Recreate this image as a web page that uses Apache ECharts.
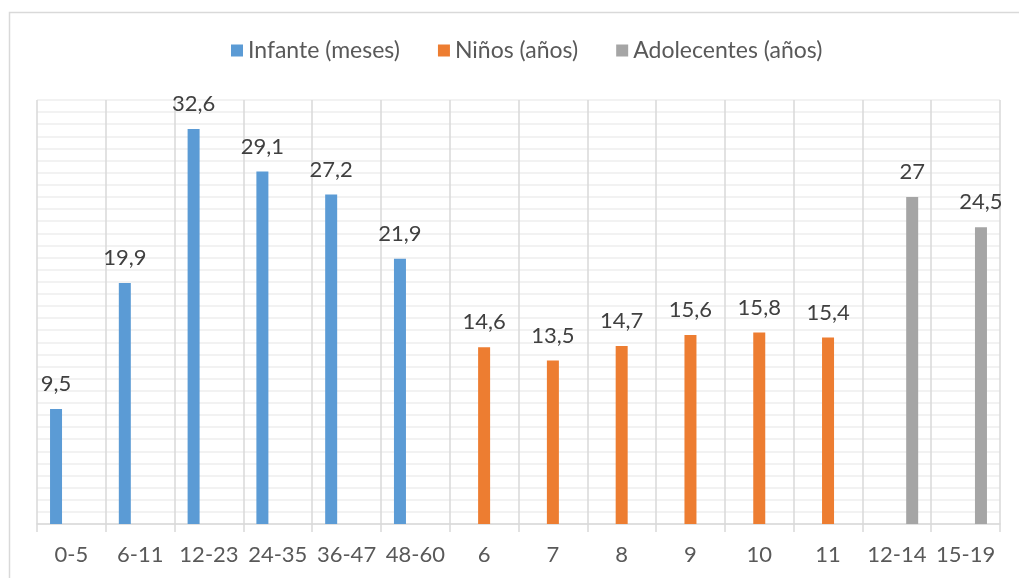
<!DOCTYPE html>
<html>
<head>
<meta charset="utf-8">
<script src="https://cdn.jsdelivr.net/npm/echarts@6/dist/echarts.min.js"></script>
<style>
html,body{margin:0;padding:0;background:#fff;}
#c{width:1019px;height:578px;}
</style>
</head>
<body>
<div id="c"></div>
<script>
var categories = ['0-5','6-11','12-23','24-35','36-47','48-60','6','7','8','9','10','11','12-14','15-19'];
var seriesNames = ['Infante (meses)','Niños (años)','Adolecentes (años)'];
var infante = [9.5,19.9,32.6,29.1,27.2,21.9,null,null,null,null,null,null,null,null];
var ninos = [null,null,null,null,null,null,14.6,13.5,14.7,15.6,15.8,15.4,null,null];
var adolecentes = [null,null,null,null,null,null,null,null,null,null,null,null,27,24.5];
var colors = ['#5b9bd5','#ed7d31','#a5a5a5'];

var FONT = 'Lato, "Open Sans", sans-serif';
var TXT = '#404040';
var TXT2 = '#595959';

function mk(name, data, color){
  return {
    name: name, type: 'bar', data: data,
    barWidth: 12, barGap: '28%',
    itemStyle: {color: color},
    label: {
      show: true, position: 'top', distance: 14,
      fontFamily: FONT, fontSize: 22, color: TXT,
      formatter: function(p){ return p.value == null ? '' : String(p.value).replace('.', ','); }
    }
  };
}

var chart = echarts.init(document.getElementById('c'), null, {renderer: 'canvas'});
chart.setOption({
  animation: false,
  backgroundColor: '#fff',
  textStyle: {fontFamily: FONT},
  graphic: [{
    type: 'rect', left: 7, top: 10, shape: {x: 0, y: 0, width: 1030, height: 600},
    style: {fill: 'none', stroke: '#d9d9d9', lineWidth: 1.5}, silent: true, z: -1
  }],
  legend: {
    top: 34, left: 226,
    itemWidth: 12, itemHeight: 12, itemGap: 38,
    icon: 'rect',
    textStyle: {fontFamily: FONT, fontSize: 23, color: TXT2},
    data: seriesNames
  },
  grid: {left: 37, right: 19, top: 100, bottom: 54, containLabel: false},
  xAxis: {
    type: 'category', data: categories,
    axisLine: {lineStyle: {color: '#d9d9d9', width: 1.5}},
    axisTick: {show: true, length: 8, interval: 0, lineStyle: {color: '#d9d9d9', width: 1.5}},
    splitLine: {show: true, interval: 0, lineStyle: {color: '#d9d9d9', width: 1.5}},
    axisLabel: {fontFamily: FONT, fontSize: 22, color: TXT2, margin: 20, interval: 0}
  },
  yAxis: {
    type: 'value', min: 0, max: 35, interval: 1,
    axisLabel: {show: false}, axisLine: {show: false}, axisTick: {show: false},
    splitLine: {lineStyle: {color: '#eeeeee', width: 1.5}}
  },
  series: [
    mk(seriesNames[0], infante, colors[0]),
    mk(seriesNames[1], ninos, colors[1]),
    mk(seriesNames[2], adolecentes, colors[2])
  ]
});
</script>
</body>
</html>
